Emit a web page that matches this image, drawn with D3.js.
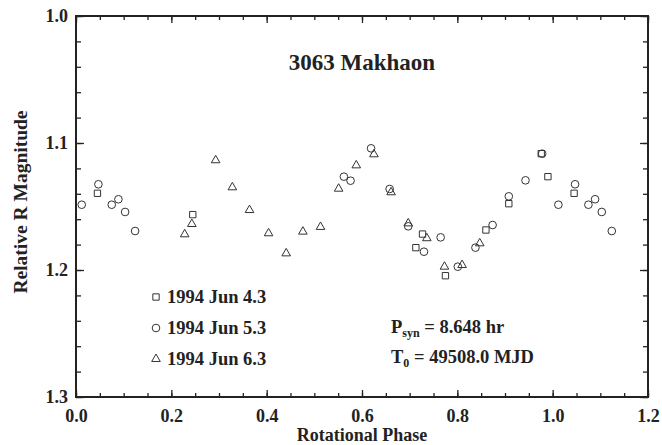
<!DOCTYPE html>
<html>
<head>
<meta charset="utf-8">
<script src="https://cdn.jsdelivr.net/npm/d3@7/dist/d3.min.js"></script>
<style>
  html, body { margin: 0; padding: 0; background: #fff; }
  svg text { font-family: "Liberation Serif", "Times New Roman", serif; font-weight: bold; fill: #222; }
</style>
</head>
<body>
<svg id="chart" width="662" height="445"></svg>
<script>
// Lightcurve of 3063 Makhaon, three nights folded on the synodic period
const nights = ["1994 Jun 4.3", "1994 Jun 5.3", "1994 Jun 6.3"];
const symbolTypes = ["square", "circle", "triangle"];

const phaseJun4 = [0.045, 0.245, 0.713, 0.727, 0.775, 0.860, 0.908, 0.976, 0.990];
const magJun4   = [1.1396, 1.1564, 1.1824, 1.1717, 1.2045, 1.1685, 1.1478, 1.1084, 1.1265];

const phaseJun5 = [0.012, 0.047, 0.075, 0.089, 0.103, 0.124, 0.562, 0.576, 0.619, 0.658,
                   0.697, 0.730, 0.765, 0.801, 0.838, 0.874, 0.908, 0.943, 0.978];
const magJun5   = [1.1486, 1.1325, 1.1486, 1.1443, 1.1543, 1.1693, 1.1265, 1.1297, 1.1042, 1.1362,
                   1.1656, 1.1856, 1.1743, 1.1974, 1.1824, 1.1646, 1.1420, 1.1294, 1.1084];

const phaseJun6 = [0.228, 0.243, 0.293, 0.328, 0.364, 0.404, 0.441, 0.476, 0.513, 0.551,
                   0.588, 0.625, 0.661, 0.697, 0.736, 0.773, 0.810, 0.847];
const magJun6   = [1.1719, 1.1638, 1.1136, 1.1349, 1.1528, 1.1711, 1.1869, 1.1698, 1.1661, 1.1360,
                   1.1176, 1.1089, 1.1388, 1.1633, 1.1750, 1.1974, 1.1961, 1.1790];

const xMajorTicks = [0.0, 0.2, 0.4, 0.6, 0.8, 1.0, 1.2];
const yMajorTicks = [1.0, 1.1, 1.2, 1.3];
const title = "3063 Makhaon";
const xTitle = "Rotational Phase";
const yTitle = "Relative R Magnitude";

const svg = d3.select("#chart");
const ink = "#222";

const x = d3.scaleLinear().domain([0, 1.2]).range([76, 648]);
const y = d3.scaleLinear().domain([1.0, 1.3]).range([16, 397]);

const xMinor = d3.range(0, 1.2001, 0.05).map(v => +v.toFixed(2));
const yMinor = d3.range(1.0, 1.3001, 0.02).map(v => +v.toFixed(2));

function styleAxis(g) {
  g.select(".domain").remove();
  g.selectAll("line").attr("stroke", ink).attr("stroke-width", 1.3);
  g.selectAll("text").attr("font-size", 18).attr("fill", ink)
    .attr("font-family", "'Liberation Serif', serif").attr("font-weight", "bold");
}

// Minor ticks on all four sides
svg.append("g").attr("transform", `translate(0,${y.range()[1]})`)
  .call(d3.axisBottom(x).tickValues(xMinor).tickSize(-4).tickFormat(""))
  .call(styleAxis);
svg.append("g").attr("transform", `translate(0,${y.range()[0]})`)
  .call(d3.axisTop(x).tickValues(xMinor).tickSize(-4).tickFormat(""))
  .call(styleAxis);
svg.append("g").attr("transform", `translate(${x.range()[0]},0)`)
  .call(d3.axisLeft(y).tickValues(yMinor).tickSize(-5).tickFormat(""))
  .call(styleAxis);
svg.append("g").attr("transform", `translate(${x.range()[1]},0)`)
  .call(d3.axisRight(y).tickValues(yMinor).tickSize(-5).tickFormat(""))
  .call(styleAxis);

// Major ticks with labels
svg.append("g").attr("transform", `translate(0,${y.range()[1]})`)
  .call(d3.axisBottom(x).tickValues(xMajorTicks).tickSize(-7).tickPadding(12).tickFormat(d3.format(".1f")))
  .call(styleAxis);
svg.append("g").attr("transform", `translate(0,${y.range()[0]})`)
  .call(d3.axisTop(x).tickValues(xMajorTicks).tickSize(-7).tickFormat(""))
  .call(styleAxis);
svg.append("g").attr("transform", `translate(${x.range()[0]},0)`)
  .call(d3.axisLeft(y).tickValues(yMajorTicks).tickSize(-8).tickPadding(8).tickFormat(d3.format(".1f")))
  .call(styleAxis);
svg.append("g").attr("transform", `translate(${x.range()[1]},0)`)
  .call(d3.axisRight(y).tickValues(yMajorTicks).tickSize(-8).tickFormat(""))
  .call(styleAxis);

// Plot frame
svg.append("rect")
  .attr("x", x.range()[0]).attr("y", y.range()[0])
  .attr("width", x.range()[1] - x.range()[0])
  .attr("height", y.range()[1] - y.range()[0])
  .attr("fill", "none").attr("stroke", ink).attr("stroke-width", 2);

// Markers
const symbolGen = {
  square:   d3.symbol().type(d3.symbolSquare).size(40),
  circle:   d3.symbol().type(d3.symbolCircle).size(46),
  triangle: d3.symbol().type(d3.symbolTriangle).size(32)
};

const series = [
  { phase: phaseJun4, mag: magJun4 },
  { phase: phaseJun5, mag: magJun5 },
  { phase: phaseJun6, mag: magJun6 }
];

series.forEach((s, i) => {
  const pts = s.phase.map((p, j) => ({ p, m: s.mag[j] }));
  // repeat the start of the cycle past phase 1.0 so the curve wraps
  const wrapped = pts.filter(d => d.p + 1 <= 1.2).map(d => ({ p: d.p + 1, m: d.m }));
  const all = pts.concat(wrapped);
  svg.append("g").selectAll("path").data(all).join("path")
    .attr("d", symbolGen[symbolTypes[i]]())
    .attr("transform", d => `translate(${x(d.p)},${y(d.m)})`)
    .attr("fill", "none").attr("stroke", "#333").attr("stroke-width", 1);
});

// Title
svg.append("text").attr("x", 362).attr("y", 70).attr("text-anchor", "middle")
  .attr("font-size", 23).text(title);

// Axis titles
svg.append("text").attr("x", 362).attr("y", 441).attr("text-anchor", "middle")
  .attr("font-size", 18).text(xTitle);
svg.append("text").attr("transform", "translate(27,202) rotate(-90)").attr("text-anchor", "middle")
  .attr("font-size", 19.5).text(yTitle);

// Legend
const legendRows = [297, 328, 359];
nights.forEach((n, i) => {
  svg.append("path")
    .attr("d", symbolGen[symbolTypes[i]]())
    .attr("transform", `translate(156,${legendRows[i]})`)
    .attr("fill", "none").attr("stroke", "#333").attr("stroke-width", 1);
  svg.append("text").attr("x", 167).attr("y", legendRows[i] + 6)
    .attr("font-size", 18.5).text(n);
});

// Period and epoch annotation
const pText = svg.append("text").attr("x", 391).attr("y", 333).attr("font-size", 18.5);
pText.append("tspan").text("P");
pText.append("tspan").attr("font-size", 12).attr("dy", 4).text("syn");
pText.append("tspan").attr("dy", -4).text(" = 8.648 hr");

const tText = svg.append("text").attr("x", 391).attr("y", 363).attr("font-size", 18.5);
tText.append("tspan").text("T");
tText.append("tspan").attr("font-size", 12).attr("dy", 4).text("0");
tText.append("tspan").attr("dy", -4).text(" = 49508.0 MJD");
</script>
</body>
</html>
